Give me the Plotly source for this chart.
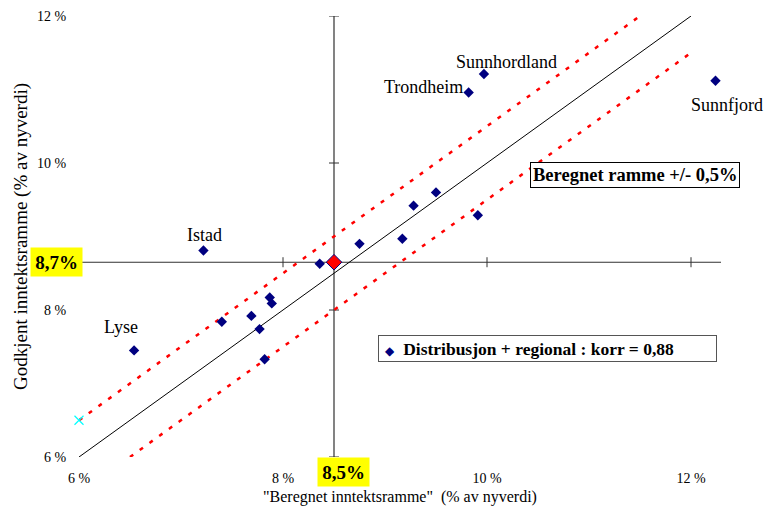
import plotly.graph_objects as go

# Beregnet inntektsramme (x) vs godkjent inntektsramme (y), % av nyverdi
selskap = ["Lyse", "Istad", "", "", "", "", "", "", "", "", "", "", "", "",
           "Trondheim", "Sunnhordland", "Sunnfjord"]
beregnet = [6.54, 7.22, 7.40, 7.69, 7.77, 7.87, 7.89, 7.82, 8.36,
            8.75, 9.17, 9.28, 9.50, 9.91, 9.82, 9.97, 12.24]
godkjent = [7.45, 8.81, 7.84, 7.92, 7.74, 8.17, 8.09, 7.33, 8.63,
            8.90, 8.97, 9.42, 9.60, 9.29, 10.96, 11.21, 11.12]

# gjennomsnitt (kryss av aksene)
snitt_x = [8.5]
snitt_y = [8.65]

# linjer: beregnet = godkjent, og +/- 0,5 %
linje_x = [6, 12]
linje_y = [6, 12]
ovre_x = [6, 11.5]
ovre_y = [6.5, 12]
nedre_x = [6.5, 12]
nedre_y = [6.0, 11.5]

# enkelt punkt nede til venstre (cyan kryss)
cyan_x = [6.0]
cyan_y = [6.5]

x_ticks = [6, 8, 10, 12]
y_ticks = [6, 8, 10, 12]
tick_text = ["6 %", "8 %", "10 %", "12 %"]

FONT = "Liberation Serif, Times New Roman, serif"
NAVY = "#000080"

fig = go.Figure()

fig.add_trace(go.Scatter(x=linje_x, y=linje_y, mode="lines",
                         line=dict(color="black", width=1), showlegend=False,
                         hoverinfo="skip"))
for lx, ly in [(ovre_x, ovre_y), (nedre_x, nedre_y)]:
    fig.add_trace(go.Scatter(x=lx, y=ly, mode="lines",
                             line=dict(color="red", width=2.5, dash="4px,8px"),
                             showlegend=False, hoverinfo="skip"))

fig.add_trace(go.Scatter(x=cyan_x, y=cyan_y, mode="markers", cliponaxis=False,
                         marker=dict(symbol="x-thin-open", size=9, color="#00ffff",
                                     line=dict(color="#00ffff", width=1.2)),
                         showlegend=False))

fig.add_trace(go.Scatter(
    x=beregnet, y=godkjent, mode="markers", hovertext=selskap, cliponaxis=False,
    name="Distribusjon + regional : korr = 0,88", showlegend=False,
    marker=dict(symbol="diamond", size=8, color=NAVY),
))

fig.add_trace(go.Scatter(x=snitt_x, y=snitt_y, mode="markers", showlegend=False,
                         marker=dict(symbol="diamond", size=12, color="red",
                                     line=dict(color=NAVY, width=1))))

# aksekors gjennom gjennomsnittet
AX = "#303030"
fig.add_shape(type="line", xref="x", yref="y", x0=snitt_x[0], x1=snitt_x[0],
              y0=6, y1=12, line=dict(color=AX, width=1.2), layer="below")
fig.add_shape(type="line", xref="x", yref="y", x0=6, x1=12.3,
              y0=snitt_y[0], y1=snitt_y[0], line=dict(color=AX, width=1.2), layer="below")
for t in x_ticks[1:]:
    fig.add_shape(type="line", xref="x", yref="y", ysizemode="pixel",
                  yanchor=snitt_y[0], x0=t, x1=t, y0=-5, y1=5,
                  line=dict(color=AX, width=1), layer="below")
for t in y_ticks:
    fig.add_shape(type="line", xref="x", yref="y", xsizemode="pixel",
                  xanchor=snitt_x[0], y0=t, y1=t, x0=-5, x1=5,
                  line=dict(color=AX, width=1), layer="below")

# navn ved punktene
offsets = {"Lyse": (-13, 23), "Istad": (1, 15), "Trondheim": (-45, 5),
           "Sunnhordland": (23, 12), "Sunnfjord": (12, -24)}
for navn, bx, gy in zip(selskap, beregnet, godkjent):
    if navn:
        dx, dy = offsets[navn]
        fig.add_annotation(x=bx, y=gy, text=navn, showarrow=False,
                           xshift=dx, yshift=dy,
                           font=dict(family=FONT, size=18, color="black"))

# gule merkelapper for snittverdiene
fig.add_annotation(x=6, y=snitt_y[0], text="<b>8,7%</b>", showarrow=False,
                   xanchor="right", xshift=4, bgcolor="yellow", borderpad=3,
                   width=45, height=22,
                   font=dict(family=FONT, size=19, color="black"))
fig.add_annotation(x=snitt_x[0], y=6, text="<b>8,5%</b>", showarrow=False,
                   yanchor="top", xshift=9, bgcolor="yellow", borderpad=3,
                   width=45, height=22,
                   font=dict(family=FONT, size=19, color="black"))

# tekstbokser (forklaring)
fig.add_annotation(x=11.45, y=9.84, text="<b>Beregnet ramme +/- 0,5%</b>",
                   showarrow=False, bgcolor="white", bordercolor="black",
                   borderwidth=1, borderpad=2,
                   font=dict(family=FONT, size=18.5, color="black"))
fig.add_annotation(x=10.593, y=7.476,
                   text="&nbsp;<span style='color:#000080;font-size:12px'>\u25c6</span>"
                        "&nbsp;&nbsp;<b>Distribusjon + regional : korr = 0,88</b>",
                   showarrow=False, bgcolor="white", bordercolor="#555555",
                   borderwidth=1, borderpad=2, width=333, height=21, align="left",
                   font=dict(family=FONT, size=17.5, color="black"))

fig.update_layout(
    width=767, height=513,
    margin=dict(l=79, r=46, t=16, b=56, autoexpand=False),
    paper_bgcolor="white", plot_bgcolor="white",
    font=dict(family=FONT, size=14, color="black"),
    showlegend=False,
    xaxis=dict(range=[6, 12.294], showgrid=False, zeroline=False, showline=False,
               automargin=False,
               tickvals=x_ticks, ticktext=tick_text, ticks="outside", ticklen=8,
               tickcolor="rgba(0,0,0,0)",
               title=dict(text='"Beregnet inntektsramme"  (% av nyverdi)',
                          font=dict(size=16), standoff=6)),
    yaxis=dict(range=[6, 12], showgrid=False, zeroline=False, showline=False,
               automargin=False,
               tickvals=y_ticks, ticktext=tick_text, ticks="outside", ticklen=9,
               tickcolor="rgba(0,0,0,0)",
               title=dict(text="Godkjent inntektsramme (% av nyverdi)",
                          font=dict(size=19), standoff=4)),
)

# fjern nettleserens standardmarg slik at figuren fyller vinduet
fig.write_html("out.html", config={"displayModeBar": False},
               post_script="document.body.style.margin='0';"
                           "document.body.style.overflow='hidden';")
